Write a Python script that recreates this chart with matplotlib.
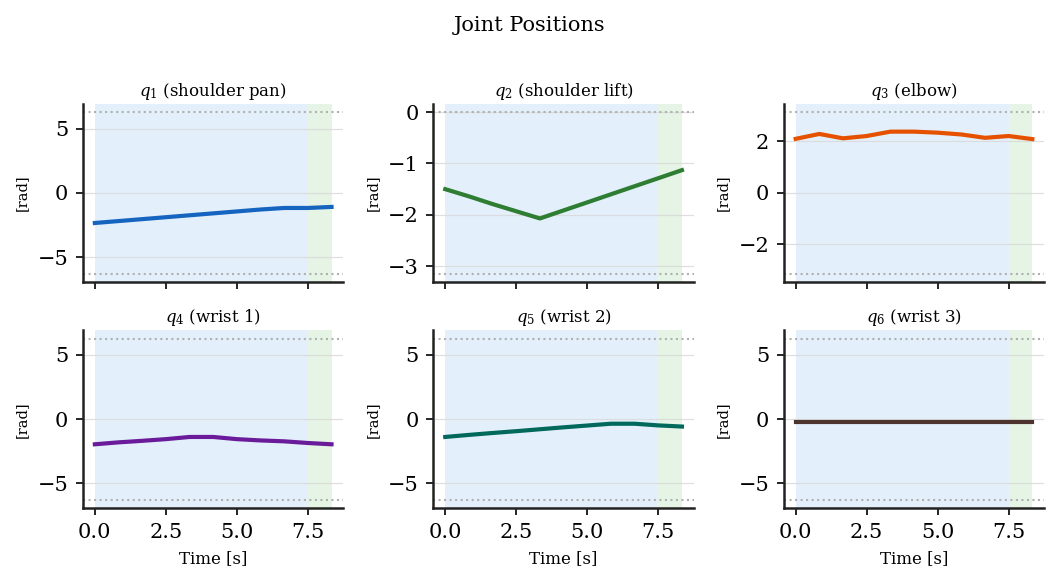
import numpy as np
import matplotlib
matplotlib.use("Agg")
import matplotlib.pyplot as plt

plt.rcParams['font.family'] = ['DejaVu Serif']
plt.rcParams['mathtext.fontset'] = 'dejavuserif'

# Data
time_s = [0.0, 0.833, 1.667, 2.5, 3.333, 4.167, 5.0, 5.833, 6.667, 7.5, 8.333]
q1 = [-2.35, -2.2, -2.05, -1.9, -1.75, -1.6, -1.45, -1.3, -1.18, -1.18, -1.1]
q2 = [-1.5, -1.64, -1.79, -1.93, -2.07, -1.913, -1.757, -1.6, -1.443, -1.287, -1.13]
q3 = [2.1, 2.29, 2.12, 2.21, 2.38, 2.38, 2.34, 2.27, 2.14, 2.21, 2.09]
q4 = [-1.95, -1.8, -1.68, -1.55, -1.38, -1.38, -1.55, -1.65, -1.72, -1.85, -1.95]
q5 = [-1.38, -1.22, -1.07, -0.93, -0.78, -0.63, -0.49, -0.35, -0.35, -0.48, -0.57]
q6 = [-0.22] * 11
series = [q1, q2, q3, q4, q5, q6]
titles = [r"$q_1$ (shoulder pan)", r"$q_2$ (shoulder lift)", r"$q_3$ (elbow)",
          r"$q_4$ (wrist 1)", r"$q_5$ (wrist 2)", r"$q_6$ (wrist 3)"]
colors = ["#1565c0", "#2e7d32", "#e65100", "#6a1b9a", "#00695c", "#4e342e"]
limits = [(-2*np.pi, 2*np.pi), (-np.pi, 0.0), (-np.pi, np.pi),
          (-2*np.pi, 2*np.pi), (-2*np.pi, 2*np.pi), (-2*np.pi, 2*np.pi)]
yticks = [[-5, 0, 5], [-3, -2, -1, 0], [-2, 0, 2], [-5, 0, 5], [-5, 0, 5], [-5, 0, 5]]
xticks = [0, 2.5, 5.0, 7.5]
phase_blue = (0.0, 7.5)
phase_green = (7.5, 8.333)

fig, axes = plt.subplots(2, 3, figsize=(1059/150, 583/150), dpi=150, sharex=True)
fig.subplots_adjust(left=0.0784, right=0.986, top=0.8216, bottom=0.1286,
                    wspace=0.346, hspace=0.275)

for i, ax in enumerate(axes.flat):
    ax.axvspan(*phase_blue, color="#e3f0fb", lw=0, zorder=0)
    ax.axvspan(*phase_green, color="#e5f4e4", lw=0, zorder=0)
    ax.plot(time_s, series[i], color=colors[i], lw=2, zorder=3)
    lo, hi = limits[i]
    ax.axhline(lo, color="#b0b0b0", ls=":", lw=1, zorder=2)
    ax.axhline(hi, color="#b0b0b0", ls=":", lw=1, zorder=2)
    ax.set_yticks(yticks[i])
    ax.grid(axis='y', color="#d8d8d8", lw=0.6, alpha=0.8)
    ax.set_axisbelow(True)
    ax.set_title(titles[i], fontsize=8, pad=4)
    ax.set_ylabel("[rad]", fontsize=7)
    ax.tick_params(labelsize=10)
    for s in ("top", "right"):
        ax.spines[s].set_visible(False)
    ax.spines['left'].set_linewidth(1.2)
    ax.spines['bottom'].set_linewidth(1.2)
    ax.spines['left'].set_color('#222222')
    ax.spines['bottom'].set_color('#222222')
    if i >= 3:
        ax.set_xlabel("Time [s]", fontsize=8)

axes[0, 0].set_xticks(xticks)
fig.suptitle("Joint Positions", fontsize=10, y=0.972)
fig.savefig("out.png", dpi=150)
